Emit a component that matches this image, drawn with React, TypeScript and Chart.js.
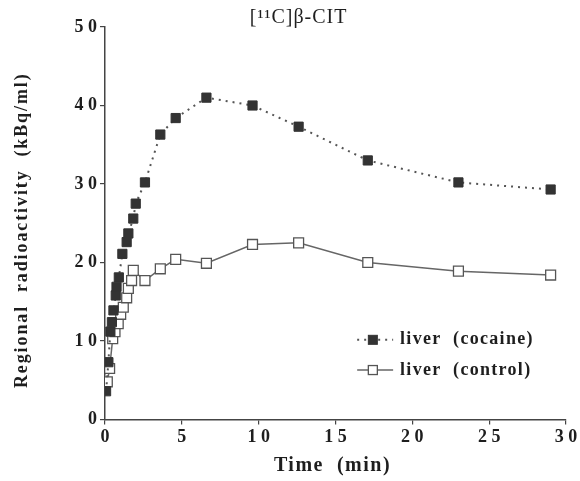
import React, { useEffect, useRef } from "react";
import { Chart, registerables } from "chart.js";

Chart.register(...registerables);

// ---- data ----
const cocaineTime = [0.07, 0.22, 0.35, 0.45, 0.55, 0.7, 0.75, 0.9, 1.13, 1.41, 1.52, 1.84, 2.0, 2.6, 3.6, 4.6, 6.6, 9.6, 12.6, 17.1, 23.0, 29.0];
const cocaineValue = [3.6, 7.3, 11.2, 12.4, 13.9, 15.8, 16.9, 18.1, 21.1, 22.6, 23.7, 25.6, 27.5, 30.2, 36.3, 38.4, 41.0, 40.0, 37.3, 33.0, 30.2, 29.3];

const controlTime = [0.15, 0.3, 0.5, 0.65, 0.86, 1.02, 1.19, 1.41, 1.52, 1.73, 1.84, 2.6, 3.6, 4.6, 6.6, 9.6, 12.6, 17.1, 23.0, 29.0];
const controlValue = [4.8, 6.5, 10.3, 11.2, 12.2, 13.4, 14.3, 15.5, 16.7, 17.7, 19.0, 17.7, 19.2, 20.4, 19.9, 22.3, 22.5, 20.0, 18.9, 18.4];

const xTickValues = [0, 5, 10, 15, 20, 25, 30];
const xTickLabels = ["0", "5", "1 0", "1 5", "2 0", "2 5", "3 0"];
const yTickValues = [0, 10, 20, 30, 40, 50];
const yTickLabels = ["0", "1 0", "2 0", "3 0", "4 0", "5 0"];

const seriesLabels = ["liver  (cocaine)", "liver  (control)"];
const titleText = "[\u00B9\u00B9C]\u03B2-CIT";
const xTitle = "Time  (min)";
const yTitle = "Regional  radioactivity  (kBq/ml)";

const SERIF = '"Liberation Serif", "DejaVu Serif", serif';
const INK = "#1e1e1e";

const textPlugin = {
  id: "customTexts",
  afterDraw(chart: any) {
    const { ctx, chartArea: a } = chart;
    const w = a.right - a.left;
    const h = a.bottom - a.top;
    ctx.save();
    ctx.fillStyle = INK;
    ctx.textBaseline = "middle";

    // title
    ctx.textAlign = "center";
    (ctx as any).letterSpacing = "1px";
    ctx.font = `20px ${SERIF}`;
    ctx.fillText(titleText, a.left + 0.42 * w, a.top - 9);

    // x title
    (ctx as any).letterSpacing = "1.5px";
    ctx.font = `bold 20px ${SERIF}`;
    ctx.fillText(xTitle, (a.left + a.right) / 2 - 3, a.bottom + 46);

    // y title
    (ctx as any).letterSpacing = "1.9px";
    ctx.font = `bold 18px ${SERIF}`;
    ctx.save();
    ctx.translate(22, a.top + h / 2 + 7);
    ctx.rotate(-Math.PI / 2);
    ctx.fillText(yTitle, 0, 0);
    ctx.restore();

    // legend
    ctx.textAlign = "left";
    const rows = [0.797, 0.874];
    chart.data.datasets.forEach((ds: any, i: number) => {
      const y = a.top + rows[i] * h;
      const x0 = a.left + 0.547 * w;
      const x1 = a.left + 0.625 * w;
      const xm = a.left + 0.581 * w;
      ctx.save();
      (ctx as any).letterSpacing = "0px";
      ctx.strokeStyle = ds.borderColor;
      ctx.lineWidth = ds.borderWidth;
      ctx.setLineDash(ds.borderDash || []);
      ctx.beginPath();
      ctx.moveTo(x0, y);
      ctx.lineTo(x1, y);
      ctx.stroke();
      ctx.setLineDash([]);
      const s = 9;
      ctx.fillStyle = ds.pointBackgroundColor;
      ctx.fillRect(xm - s / 2, y - s / 2, s, s);
      ctx.strokeStyle = ds.pointBorderColor;
      ctx.lineWidth = ds.pointBorderWidth;
      ctx.strokeRect(xm - s / 2, y - s / 2, s, s);
      ctx.restore();
      (ctx as any).letterSpacing = "1.3px";
      ctx.font = `bold 18px ${SERIF}`;
      ctx.fillText(ds.label, a.left + 0.64 * w, y);
    });
    ctx.restore();
  },
};

export default function App() {
  const ref = useRef<HTMLCanvasElement | null>(null);

  useEffect(() => {
    if (!ref.current) return;
    const chart = new Chart(ref.current, {
      type: "line",
      data: {
        datasets: [
          {
            label: seriesLabels[0],
            data: cocaineTime.map((t, i) => ({ x: t, y: cocaineValue[i] })),
            borderColor: "#555",
            borderWidth: 2,
            borderDash: [2, 5],
            pointStyle: "rect",
            pointRadius: 6.5,
            pointBackgroundColor: "#333",
            pointBorderColor: "#333",
            pointBorderWidth: 1,
            tension: 0,
          },
          {
            label: seriesLabels[1],
            data: controlTime.map((t, i) => ({ x: t, y: controlValue[i] })),
            borderColor: "#666",
            borderWidth: 1.5,
            pointStyle: "rect",
            pointRadius: 7,
            pointBackgroundColor: "#fff",
            pointBorderColor: "#555",
            pointBorderWidth: 1.3,
            tension: 0,
          },
        ],
      },
      options: {
        animation: false,
        responsive: true,
        maintainAspectRatio: false,
        layout: { padding: { top: 27, right: 14, left: 0, bottom: 0 } },
        plugins: {
          legend: { display: false },
          tooltip: { enabled: false },
          title: { display: false },
        },
        scales: {
          x: {
            type: "linear",
            min: 0,
            max: 30,
            afterBuildTicks: (scale: any) => {
              scale.ticks = xTickValues.map((v) => ({ value: v }));
            },
            afterFit: (scale: any) => {
              scale.height = 61.5;
              scale.paddingLeft = 0;
              scale.paddingRight = 0;
            },
            border: { display: true, color: "#444", width: 1.5 },
            grid: { display: true, drawOnChartArea: false, drawTicks: true, tickLength: 5, color: "#444", lineWidth: 1.2 },
            ticks: {
              color: INK,
              font: { family: SERIF, size: 18, weight: "bold" },
              padding: 2,
              maxRotation: 0,
              autoSkip: false,
              callback: (v: any) => {
                const i = xTickValues.indexOf(Number(v));
                return i >= 0 ? xTickLabels[i] : "";
              },
            },
          },
          y: {
            type: "linear",
            min: 0,
            max: 50,
            afterBuildTicks: (scale: any) => {
              scale.ticks = yTickValues.map((v) => ({ value: v }));
            },
            afterFit: (scale: any) => {
              scale.width = 105;
              scale.paddingTop = 0;
              scale.paddingBottom = 0;
            },
            border: { display: true, color: "#444", width: 1.5 },
            grid: { display: true, drawOnChartArea: false, drawTicks: true, tickLength: 5, color: "#444", lineWidth: 1.2 },
            ticks: {
              color: INK,
              font: { family: SERIF, size: 18, weight: "bold" },
              padding: 3,
              autoSkip: false,
              callback: (v: any) => {
                const i = yTickValues.indexOf(Number(v));
                return i >= 0 ? yTickLabels[i] : "";
              },
            },
          },
        },
      },
      plugins: [textPlugin],
    } as any);
    return () => chart.destroy();
  }, []);

  return (
    <div style={{ position: "absolute", left: 0, top: 0, width: 580, height: 481 }}>
      <canvas ref={ref} />
    </div>
  );
}
